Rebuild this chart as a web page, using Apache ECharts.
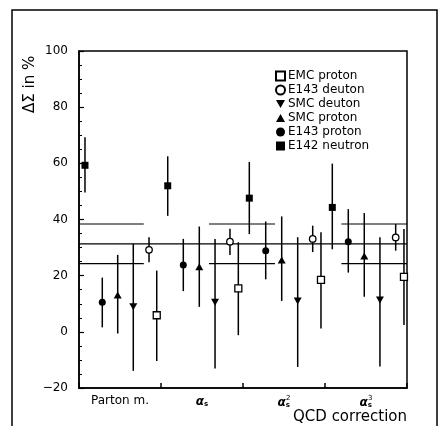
<!DOCTYPE html>
<html><head><meta charset="utf-8">
<script src="https://cdn.jsdelivr.net/npm/echarts@6/dist/echarts.min.js"></script>
<style>html,body{margin:0;padding:0;background:#fff}#c{width:442px;height:426px}</style>
</head><body><div id="c"></div>
<script>
// ---- data ----
const categories = ['Parton m.', 'as', 'as2', 'as3'];
const yTicks = [-20, 0, 20, 40, 60, 80, 100];

const seriesNames = ['EMC proton', 'E143 deuton', 'SMC deuton', 'SMC proton', 'E143 proton', 'E142 neutron'];

// x positions (in group units, 0..4)
const emcX   = [0.948, 1.943, 2.951, 3.963];
const e143dX = [0.854, 1.841, 2.850, 3.862];
const smcdX  = [0.662, 1.659, 2.667, 3.670];
const smcpX  = [0.472, 1.467, 2.472, 3.479];
const e143pX = [0.284, 1.272, 2.277, 3.284];
const e142X  = [0.073, 1.082, 2.077, 3.089];

// central values
const emcY   = [5.9, 15.5, 18.5, 19.6];
const e143dY = [29.2, 32.1, 33.1, 33.6];
const smcdY  = [8.9, 10.5, 11.0, 11.3];
const smcpY  = [13.1, 23.2, 25.6, 27.0];
const e143pY = [10.5, 23.8, 28.9, 32.1];
const e142Y  = [59.3, 52.0, 47.6, 44.3];

// error bar ranges [low, high]
const emcErr   = [[-10.4, 21.8], [-1.2, 31.9], [1.2, 35.5], [2.4, 36.6]];
const e143dErr = [[24.8, 33.7], [27.4, 36.7], [28.4, 37.8], [28.9, 38.4]];
const smcdErr  = [[-13.9, 31.3], [-13.1, 33.1], [-12.5, 33.7], [-12.3, 33.7]];
const smcpErr  = [[-0.6, 27.4], [8.9, 37.5], [11.0, 41.1], [12.5, 42.3]];
const e143pErr = [[1.6, 19.3], [14.5, 33.1], [18.7, 39.3], [21.1, 43.7]];
const e142Err  = [[49.6, 69.3], [41.3, 62.5], [34.8, 60.5], [29.4, 59.9]];

// reference lines
const meanLine = 31.3;
const bandHigh = 38.4;
const bandLow = 24.3;
const bandSegments = [[0, 0.79], [1.585, 2.39], [3.2, 4.0]];

// ---- build ----
const xs = [emcX, e143dX, smcdX, smcpX, e143pX, e142X];
const ys = [emcY, e143dY, smcdY, smcpY, e143pY, e142Y];
const errs = [emcErr, e143dErr, smcdErr, smcpErr, e143pErr, e142Err];
const downTri = 'path://M0,0 L10,0 L5,9 Z';
const upTri = 'path://M5,0 L10,9 L0,9 Z';
const symbols = ['rect', 'circle', downTri, upTri, 'circle', 'rect'];
const filled = [false, false, true, true, true, true];
const sizes = [7, 6.5, [8, 7], [8, 7], 7, 7];

const errData = [];
errs.forEach((arr, s) => arr.forEach((r, i) => errData.push([xs[s][i], r[0], r[1]])));

const lineData = [];
lineData.push([0, meanLine, 4, meanLine]);
bandSegments.forEach(seg => {
  lineData.push([seg[0], bandHigh, seg[1], bandHigh]);
  lineData.push([seg[0], bandLow, seg[1], bandLow]);
});

const font = 'DejaVu Sans';
const chart = echarts.init(document.getElementById('c'));

const series = [
  {
    type: 'custom', xAxisIndex: 1, z: 2, silent: true,
    data: errData,
    renderItem: function (params, api) {
      const p1 = api.coord([api.value(0), api.value(1)]);
      const p2 = api.coord([api.value(0), api.value(2)]);
      return { type: 'line', shape: { x1: p1[0], y1: p1[1], x2: p2[0], y2: p2[1] },
        style: { stroke: '#000', lineWidth: 1.5 } };
    }
  },
  {
    type: 'custom', xAxisIndex: 1, z: 2, silent: true,
    data: lineData,
    renderItem: function (params, api) {
      const p1 = api.coord([api.value(0), api.value(1)]);
      const p2 = api.coord([api.value(2), api.value(3)]);
      return { type: 'line', shape: { x1: p1[0], y1: p1[1], x2: p2[0], y2: p2[1] },
        style: { stroke: '#000', lineWidth: 1.2 } };
    }
  }
];
seriesNames.forEach((name, s) => {
  series.push({
    type: 'scatter', name: name, xAxisIndex: 1, z: 5,
    symbol: symbols[s], symbolSize: sizes[s],
    itemStyle: { color: filled[s] ? '#000' : '#fff', borderColor: '#000', borderWidth: filled[s] ? 0 : 1.3, opacity: 1 },
    data: xs[s].map((x, i) => [x, ys[s][i]])
  });
});

chart.setOption({
  animation: false,
  backgroundColor: '#fff',
  grid: { left: 79, right: 35, top: 51, bottom: 38, show: true, borderColor: '#000', borderWidth: 1.5, backgroundColor: 'transparent' },
  legend: {
    orient: 'vertical', left: 270, top: 65, itemWidth: 9, itemHeight: 9, itemGap: 2,
    data: seriesNames,
    textStyle: { fontFamily: font, fontSize: 12, color: '#000', padding: [0, 0, 0, -2] },
    inactiveColor: '#000'
  },
  xAxis: [
    {
      type: 'category', data: categories, boundaryGap: true,
      axisLine: { show: true, onZero: false, lineStyle: { color: '#000', width: 1.5 } },
      axisTick: { show: true, inside: true, length: 5, interval: 0, lineStyle: { color: '#000', width: 1.5 } },
      axisLabel: {
        interval: 0, margin: 7, color: '#000', fontFamily: font, fontSize: 12,
        formatter: function (v) {
          if (v === 'as') return '{a|α}{s|s}';
          if (v === 'as2') return '{a|α}{s|s}{p|2}';
          if (v === 'as3') return '{a|α}{s|s}{p|3}';
          return v;
        },
        rich: {
          a: { fontFamily: font, fontSize: 12, fontStyle: 'italic', fontWeight: 'bold', color: '#000' },
          s: { fontFamily: font, fontSize: 7, fontWeight: 'bold', color: '#000', padding: [6, 0, 0, 0] },
          p: { fontFamily: font, fontSize: 7, color: '#000', padding: [0, 0, 8, -4] }
        }
      },
      splitLine: { show: false }
    },
    { type: 'value', min: 0, max: 4, show: false, splitLine: { show: false } }
  ],
  yAxis: {
    type: 'value', min: yTicks[0], max: yTicks[yTicks.length - 1], interval: 20,
    axisLine: { show: true, lineStyle: { color: '#000', width: 1.5 } },
    axisTick: { show: true, inside: true, length: 5, lineStyle: { color: '#000', width: 1.2 } },
    minorTick: { show: true, splitNumber: 4, length: 3, lineStyle: { color: '#000', width: 1 } },
    axisLabel: { margin: 11, color: '#000', fontFamily: font, fontSize: 12,
      formatter: v => (v < 0 ? '\u2212' + Math.abs(v) : String(v)) },
    splitLine: { show: false }
  },
  graphic: [
    { type: 'rect', shape: { x: 12, y: 10, width: 425, height: 430 }, style: { fill: 'none', stroke: '#000', lineWidth: 1.5 }, silent: true },
    { type: 'text', x: 30, y: 113, rotation: Math.PI / 2,
      style: { text: 'ΔΣ in %', fontFamily: font, fontSize: 15, fill: '#000', align: 'left', verticalAlign: 'middle' } },
    { type: 'text', x: 407, y: 417,
      style: { text: 'QCD correction', fontFamily: font, fontSize: 15, fill: '#000', align: 'right', verticalAlign: 'middle' } }
  ],
  series: series
});
</script>
</body></html>
